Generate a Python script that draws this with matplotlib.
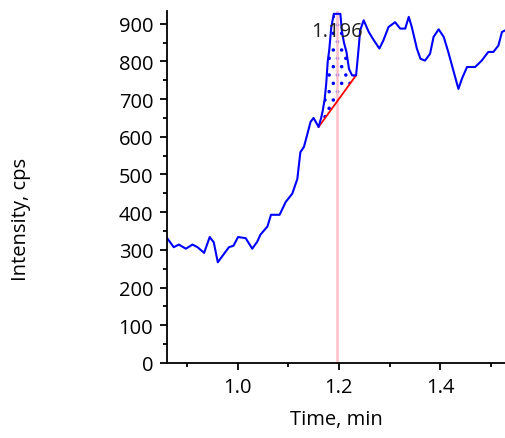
import matplotlib
matplotlib.use("Agg")
from matplotlib import pyplot as plt
import numpy as np

plt.rcParams['font.family'] = ['Open Sans', 'DejaVu Sans']
plt.rcParams['hatch.linewidth'] = 1.3

# chromatogram trace (time in min, intensity in cps)
time_min = [0.861, 0.874, 0.884, 0.898, 0.911, 0.921, 0.934, 0.945, 0.953, 0.961,
            0.973, 0.983, 0.992, 1.001, 1.016, 1.029, 1.039, 1.045, 1.059, 1.066,
            1.083, 1.095, 1.108, 1.118, 1.124, 1.131, 1.137, 1.144, 1.150, 1.160,
            1.165, 1.168, 1.172, 1.175, 1.178, 1.181, 1.185, 1.190, 1.196, 1.200,
            1.203, 1.206, 1.210, 1.215, 1.220, 1.226, 1.234, 1.239, 1.242, 1.249,
            1.259, 1.269, 1.280, 1.288, 1.298, 1.311, 1.321, 1.331, 1.338, 1.344,
            1.354, 1.361, 1.370, 1.380, 1.387, 1.397, 1.407, 1.416, 1.426, 1.436,
            1.443, 1.453, 1.469, 1.482, 1.495, 1.505, 1.515, 1.522, 1.528]
intensity = [331, 307, 314, 303, 314, 307, 292, 334, 320, 267,
             289, 307, 311, 334, 331, 303, 322, 340, 362, 393,
             393, 427, 449, 488, 559, 573, 603, 639, 650, 626,
             650, 668, 700, 740, 800, 830, 890, 926, 926, 926,
             926, 880, 850, 825, 780, 763, 763, 834, 882, 909,
             878, 856, 834, 856, 891, 904, 887, 887, 918, 891,
             834, 807, 802, 820, 865, 885, 865, 825, 776, 727,
             754, 785, 785, 802, 825, 825, 842, 878, 882]

peak_rt = 1.196
peak_start, peak_end = 1.160, 1.234
base_start, base_end = 626, 763

fig = plt.figure(figsize=(5.05, 4.39), dpi=100)
ax = fig.add_axes([0.331, 0.171, 0.669, 0.802])

t = np.array(time_min)
y = np.array(intensity)

# integrated area between trace and baseline
mask = (t >= peak_start) & (t <= peak_end)
tb = t[mask]
base = base_start + (tb - peak_start) / (peak_end - peak_start) * (base_end - base_start)
ax.fill_between(tb, base, y[mask], facecolor='none', edgecolor='blue',
                hatch='..', linewidth=0)
ax.plot([peak_start, peak_end], [base_start, base_end], color='red', lw=1.3)

ax.axvline(peak_rt, color='#ffc0cb', lw=1.8, zorder=1)
ax.plot(t, y, color='blue', lw=1.5)
ax.text(peak_rt, 881, "1.196", ha='center', va='center', fontsize=14.5, color='#222222')

ax.set_xlim(0.861, 1.528)
ax.set_ylim(0, 934)
ax.set_xticks([1.0, 1.2, 1.4])
ax.set_xticks([0.9, 1.1, 1.3, 1.5], minor=True)
ax.set_yticks(range(0, 1000, 100))
ax.set_yticks(range(50, 950, 100), minor=True)
ax.tick_params(which='major', length=5, width=1.3, labelsize=14.5, pad=5)
ax.tick_params(which='minor', length=3, width=1.3)
ax.spines['top'].set_visible(False)
ax.spines['right'].set_visible(False)
ax.spines['left'].set_linewidth(1.3)
ax.spines['bottom'].set_linewidth(1.3)

ax.set_xlabel("Time, min", fontsize=14.5, labelpad=9)
fig.text(0.042, 0.5, "Intensity, cps", rotation=90, ha='center', va='center', fontsize=14.5)

fig.savefig("out.png", dpi=100)
